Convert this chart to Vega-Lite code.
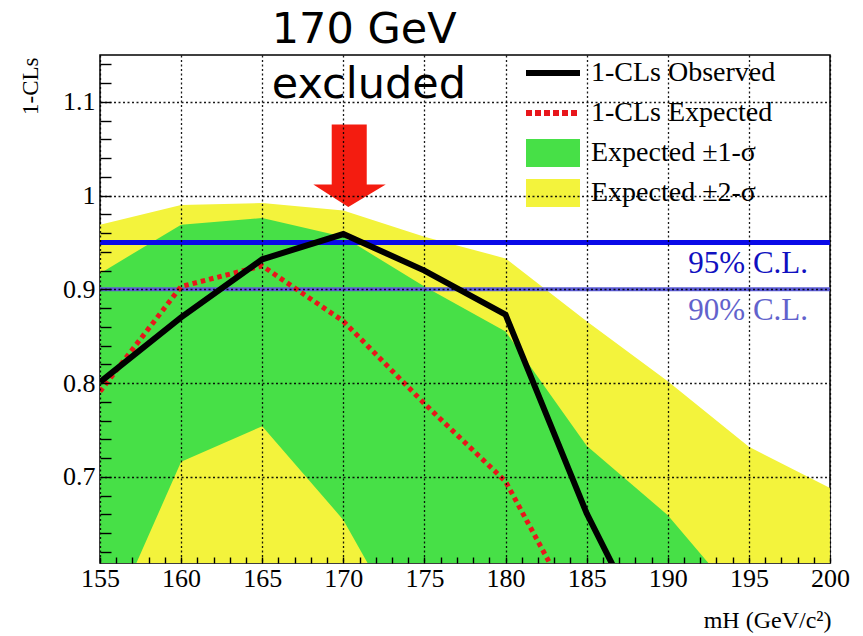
{
  "$schema": "https://vega.github.io/schema/vega-lite/v6.json",
  "width": 730,
  "height": 508,
  "autosize": {"type": "none"},
  "padding": {"left": 100, "top": 55, "right": 33, "bottom": 73},
  "background": "white",
  "config": {"view": {"stroke": "black", "strokeWidth": 1.5}, "font": "Liberation Serif"},
  "datasets": {
    "bands": [
      {"series": "Expected ±2-σ", "m": 155, "v": 0.969, "v2": 0.2},
      {"series": "Expected ±2-σ", "m": 160, "v": 0.990, "v2": 0.2},
      {"series": "Expected ±2-σ", "m": 165, "v": 0.992, "v2": 0.2},
      {"series": "Expected ±2-σ", "m": 170, "v": 0.984, "v2": 0.2},
      {"series": "Expected ±2-σ", "m": 175, "v": 0.956, "v2": 0.2},
      {"series": "Expected ±2-σ", "m": 180, "v": 0.933, "v2": 0.2},
      {"series": "Expected ±2-σ", "m": 185, "v": 0.866, "v2": 0.2},
      {"series": "Expected ±2-σ", "m": 190, "v": 0.802, "v2": 0.2},
      {"series": "Expected ±2-σ", "m": 195, "v": 0.732, "v2": 0.2},
      {"series": "Expected ±2-σ", "m": 200, "v": 0.688, "v2": 0.2},
      {"series": "Expected ±1-σ", "m": 155, "v": 0.917, "v2": 0.52},
      {"series": "Expected ±1-σ", "m": 160, "v": 0.969, "v2": 0.716},
      {"series": "Expected ±1-σ", "m": 165, "v": 0.976, "v2": 0.754},
      {"series": "Expected ±1-σ", "m": 170, "v": 0.956, "v2": 0.654},
      {"series": "Expected ±1-σ", "m": 175, "v": 0.903, "v2": 0.50},
      {"series": "Expected ±1-σ", "m": 180, "v": 0.855, "v2": 0.45},
      {"series": "Expected ±1-σ", "m": 185, "v": 0.733, "v2": 0.42},
      {"series": "Expected ±1-σ", "m": 190, "v": 0.659, "v2": 0.40},
      {"series": "Expected ±1-σ", "m": 195, "v": 0.557, "v2": 0.38},
      {"series": "Expected ±1-σ", "m": 200, "v": 0.455, "v2": 0.35}
    ],
    "curves": [
      {"series": "1-CLs Observed", "m": 155, "v": 0.801},
      {"series": "1-CLs Observed", "m": 160, "v": 0.870},
      {"series": "1-CLs Observed", "m": 165, "v": 0.932},
      {"series": "1-CLs Observed", "m": 170, "v": 0.959},
      {"series": "1-CLs Observed", "m": 175, "v": 0.920},
      {"series": "1-CLs Observed", "m": 180, "v": 0.873},
      {"series": "1-CLs Observed", "m": 185, "v": 0.661},
      {"series": "1-CLs Observed", "m": 190, "v": 0.489},
      {"series": "1-CLs Expected", "m": 155, "v": 0.791},
      {"series": "1-CLs Expected", "m": 160, "v": 0.903},
      {"series": "1-CLs Expected", "m": 165, "v": 0.925},
      {"series": "1-CLs Expected", "m": 170, "v": 0.866},
      {"series": "1-CLs Expected", "m": 175, "v": 0.778},
      {"series": "1-CLs Expected", "m": 180, "v": 0.695},
      {"series": "1-CLs Expected", "m": 185, "v": 0.535}
    ],
    "cls": [
      {"v": 0.95, "label": "95% C.L."},
      {"v": 0.90, "label": "90% C.L."}
    ],
    "note": [
      {"m": 170, "label": "170 GeV\nexcluded"}
    ]
  },
  "encoding": {
    "x": {
      "field": "m", "type": "quantitative",
      "scale": {"domain": [155, 200], "nice": false, "zero": false},
      "axis": {
        "zindex": 1,
        "domain": false,
        "values": [155,156,157,158,159,160,161,162,163,164,165,166,167,168,169,170,171,172,173,174,175,176,177,178,179,180,181,182,183,184,185,186,187,188,189,190,191,192,193,194,195,196,197,198,199,200],
        "labelExpr": "datum.value % 5 == 0 ? format(datum.value, 'd') : ''",
        "labelOverlap": false,
        "labelFlush": false,
        "labelBound": false,
        "labelFont": "Liberation Serif",
        "labelFontSize": 26,
        "labelColor": "black",
        "labelPadding": 8,
        "ticks": true,
        "tickColor": "black",
        "tickWidth": 1.4,
        "tickSize": -6,
        "grid": true,
        "gridColor": "black",
        "gridDash": [2, 2.5],
        "gridWidth": 1.3,
        "gridOpacity": {"condition": {"test": "datum.value % 5 == 0", "value": 0.9}, "value": 0},
        "title": "mH (GeV/c²)",
        "titleFont": "Liberation Serif",
        "titleFontSize": 24,
        "titleFontWeight": "normal",
        "titleColor": "black",
        "titleX": 731,
        "titleY": 64,
        "titleAlign": "right",
        "titleBaseline": "alphabetic"
      }
    },
    "y": {
      "field": "v", "type": "quantitative",
      "scale": {"domain": [0.608, 1.15], "nice": false, "zero": false},
      "axis": {
        "zindex": 1,
        "domain": false,
        "values": [0.62,0.64,0.66,0.68,0.7,0.72,0.74,0.76,0.78,0.8,0.82,0.84,0.86,0.88,0.9,0.92,0.94,0.96,0.98,1,1.02,1.04,1.06,1.08,1.1,1.12,1.14],
        "labelExpr": "indexof([0.7, 0.8, 0.9, 1, 1.1], datum.value) >= 0 ? format(datum.value, '~g') : ''",
        "labelOverlap": false,
        "labelBound": false,
        "labelFont": "Liberation Serif",
        "labelFontSize": 26,
        "labelColor": "black",
        "labelPadding": 16,
        "ticks": true,
        "tickColor": "black",
        "tickWidth": 1.4,
        "tickSize": -11,
        "grid": true,
        "gridColor": "black",
        "gridDash": [2, 2.5],
        "gridWidth": 1.3,
        "gridOpacity": {"condition": {"test": "indexof([0.7, 0.8, 0.9, 1, 1.1], datum.value) >= 0", "value": 0.9}, "value": 0},
        "title": "1-CLs",
        "titleFont": "Liberation Serif",
        "titleFontSize": 23,
        "titleFontWeight": "normal",
        "titleColor": "black",
        "titleX": -63,
        "titleY": 2,
        "titleAlign": "right",
        "titleBaseline": "alphabetic"
      }
    },
    "color": {
      "field": "series", "type": "nominal",
      "scale": {"domain": ["1-CLs Observed", "1-CLs Expected", "Expected ±1-σ", "Expected ±2-σ"], "range": ["black", "#e8161b", "#47e047", "#f3f33c"]},
      "legend": {
        "orient": "none", "legendX": 439, "legendY": 4, "title": null, "padding": 0, "rowPadding": 12, "gridAlign": "all", "symbolSize": 1600,
        "labelFont": "Liberation Serif", "labelFontSize": 28, "labelColor": "black", "labelLimit": 400, "labelOffset": 24,
        "encode": {"symbols": {"update": {
          "shape": {"signal": "(datum.value == '1-CLs Observed' || datum.value == '1-CLs Expected') ? 'M-1.35,0L1.35,0' : 'M-1.35,-0.7L1.35,-0.7L1.35,0.7L-1.35,0.7Z'"},
          "fill": {"signal": "datum.value == 'Expected ±1-σ' ? '#47e047' : datum.value == 'Expected ±2-σ' ? '#f3f33c' : 'transparent'"},
          "stroke": {"signal": "datum.value == '1-CLs Observed' ? 'black' : datum.value == '1-CLs Expected' ? '#e8161b' : 'transparent'"},
          "strokeDash": {"signal": "datum.value == '1-CLs Expected' ? [6, 3] : [1, 0]"},
          "strokeWidth": {"signal": "(datum.value == '1-CLs Observed' || datum.value == '1-CLs Expected') ? 6 : 0"},
          "opacity": {"value": 1}, "fillOpacity": {"value": 1}, "strokeOpacity": {"value": 1}
        }}}
      }
    }
  },
  "layer": [
    {
      "data": {"name": "bands"},
      "transform": [{"filter": "datum.series == 'Expected ±2-σ'"}],
      "mark": {"type": "area", "clip": true, "opacity": 1},
      "encoding": {"y2": {"field": "v2"}}
    },
    {
      "data": {"name": "bands"},
      "transform": [{"filter": "datum.series == 'Expected ±1-σ'"}],
      "mark": {"type": "area", "clip": true, "opacity": 1},
      "encoding": {"y2": {"field": "v2"}}
    },
    {
      "data": {"name": "cls"},
      "mark": {"type": "rule", "clip": true},
      "encoding": {
        "x": null,
        "color": {"condition": {"test": "datum.v > 0.92", "value": "#0a0ae8"}, "value": "#5c5cd6"},
        "strokeWidth": {"condition": {"test": "datum.v > 0.92", "value": 5}, "value": 4}
      }
    },
    {
      "data": {"name": "cls"},
      "mark": {"type": "text", "align": "right", "baseline": "alphabetic", "dx": -22, "dy": 31, "font": "Liberation Serif", "fontSize": 31},
      "encoding": {
        "x": {"value": {"expr": "width"}},
        "text": {"field": "label"},
        "color": {"condition": {"test": "datum.v > 0.92", "value": "#1010c0"}, "value": "#6262cc"}
      }
    },
    {
      "data": {"name": "curves"},
      "transform": [{"filter": "datum.series == '1-CLs Expected'"}],
      "mark": {"type": "line", "clip": true, "strokeWidth": 5, "strokeDash": [4.5, 4]}
    },
    {
      "data": {"name": "curves"},
      "transform": [{"filter": "datum.series == '1-CLs Observed'"}],
      "mark": {"type": "line", "clip": true, "strokeWidth": 6}
    },
    {
      "data": {"name": "note"},
      "mark": {"type": "point", "filled": true, "opacity": 1, "color": "#f41c10", "size": 6790, "shape": "M-0.282,-1.723L0.568,-1.723L0.568,-0.267L1.029,-0.267L0.121,0.274L-0.728,-0.267L-0.282,-0.267Z"},
      "encoding": {
        "y": {"value": {"expr": "scale('y', 1)"}},
        "color": null
      }
    },
    {
      "data": {"name": "note"},
      "mark": {"type": "text", "align": "left", "baseline": "middle", "lineBreak": "\n", "lineHeight": 55, "dx": -71.6, "dy": -25.5, "font": "DejaVu Sans", "fontSize": 43, "color": "black"},
      "encoding": {
        "y": {"value": {"expr": "scale('y', 1.15)"}},
        "text": {"field": "label"},
        "color": null
      }
    }
  ]
}
